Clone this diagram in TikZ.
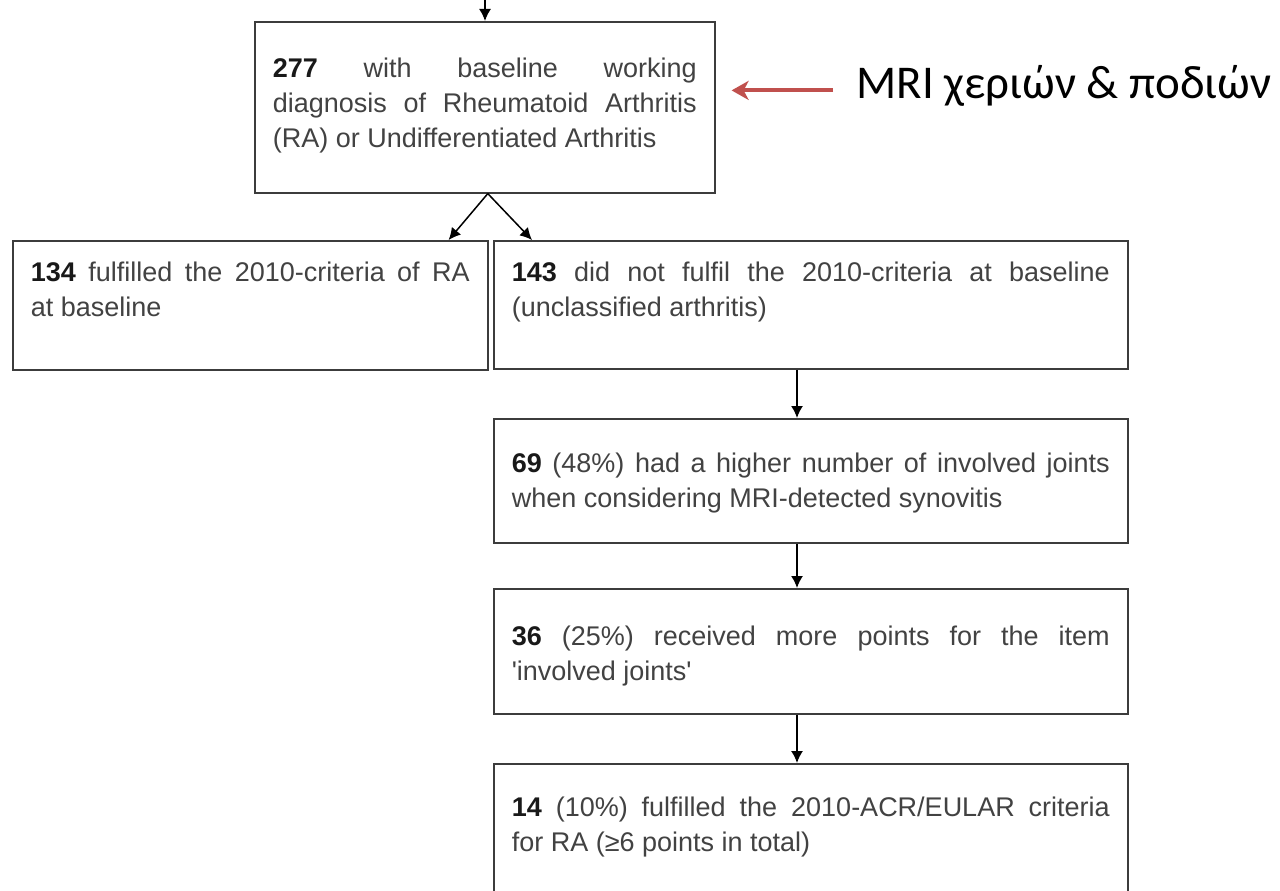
\documentclass[tikz,border=0pt]{standalone}
\usepackage{fontspec}
\setmainfont{Liberation Sans}
\newfontfamily\grfont{Carlito}
\usetikzlibrary{arrows.meta,positioning,calc}
\definecolor{flowLine}{RGB}{60,60,60}
\definecolor{flowText}{RGB}{66,66,66}
\definecolor{flowNum}{RGB}{25,25,25}
\definecolor{mriRed}{RGB}{192,80,77}
\newcommand\flowfont{\fontsize{27}{35}\selectfont\hyphenpenalty=10000\exhyphenpenalty=10000}
\newcommand\num[1]{\textcolor{flowNum}{\textbf{#1}}}

\begin{document}
\begin{tikzpicture}[x=1pt, y=-1pt,
    fbox/.style={rectangle, draw=flowLine, line width=1.6pt, fill=white,
                 inner xsep=18pt, inner ysep=0pt, align=justify,
                 font=\flowfont, text=flowText, anchor=north west},
    conn/.style={-{Latex[length=12pt,width=12pt]}, line width=1.5pt, draw=black},
    redarr/.style={-{Stealth[length=17pt,width=19pt,inset=5pt]}, line width=4pt, draw=mriRed}
  ]
  \useasboundingbox (0,0) rectangle (1280,891);
  \node[fbox, text width=424pt, text height=56pt, text depth=115pt] (n277) at (254,21)
    {\num{277} with baseline working\linebreak diagnosis of Rheumatoid Arthritis\linebreak (RA) or Undifferentiated Arthritis};
  \node[fbox, text width=439pt, text height=41pt, text depth=88pt] (n134) at (12,240)
    {\num{134} fulfilled the 2010-criteria of RA\linebreak at baseline};
  \node[fbox, text width=598pt, text height=41pt, text depth=87pt] (n143) at (493,240)
    {\num{143} did not fulfil the 2010-criteria at baseline\linebreak (unclassified arthritis)};
  \node[fbox, text width=598pt, text height=54pt, text depth=70pt] (n69) at (493,418)
    {\num{69} (48\%) had a higher number of involved joints\linebreak when considering MRI-detected synovitis};
  \node[fbox, text width=598pt, text height=57pt, text depth=68pt] (n36) at (493,588)
    {\num{36} (25\%) received more points for the item\linebreak \textquotesingle{}involved joints\textquotesingle};
  \node[fbox, text width=598pt, text height=53pt, text depth=134pt] (n14) at (493,763)
    {\num{14} (10\%) fulfilled the 2010-ACR/EULAR criteria\linebreak for RA (≥6 points in total)};
  % label on the right
  \node[anchor=base west, font=\grfont\fontsize{47}{50}\selectfont] (mri) at (853,99)
    {MRI χεριών \& ποδιών};

  % connectors
  \coordinate (entry) at (485,-15);
  \coordinate (spine) at (797,0);
  \draw[conn] (entry) -- (entry |- n277.north);
  \draw[conn] ([xshift=3pt]n277.south) -- ([xshift=-40pt]n134.north east);
  \draw[conn] ([xshift=3pt]n277.south) -- ([xshift=39pt]n143.north west);
  \draw[conn] (n143.south -| spine) -- (n69.north -| spine);
  \draw[conn] (n69.south -| spine) -- (n36.north -| spine);
  \draw[conn] (n36.south -| spine) -- (n14.north -| spine);
  \coordinate (rtail) at ([xshift=-20pt,yshift=-4pt]mri.west);
  \draw[redarr, shorten >=16pt] (rtail) -- (rtail -| n277.east);
\end{tikzpicture}
\end{document}
